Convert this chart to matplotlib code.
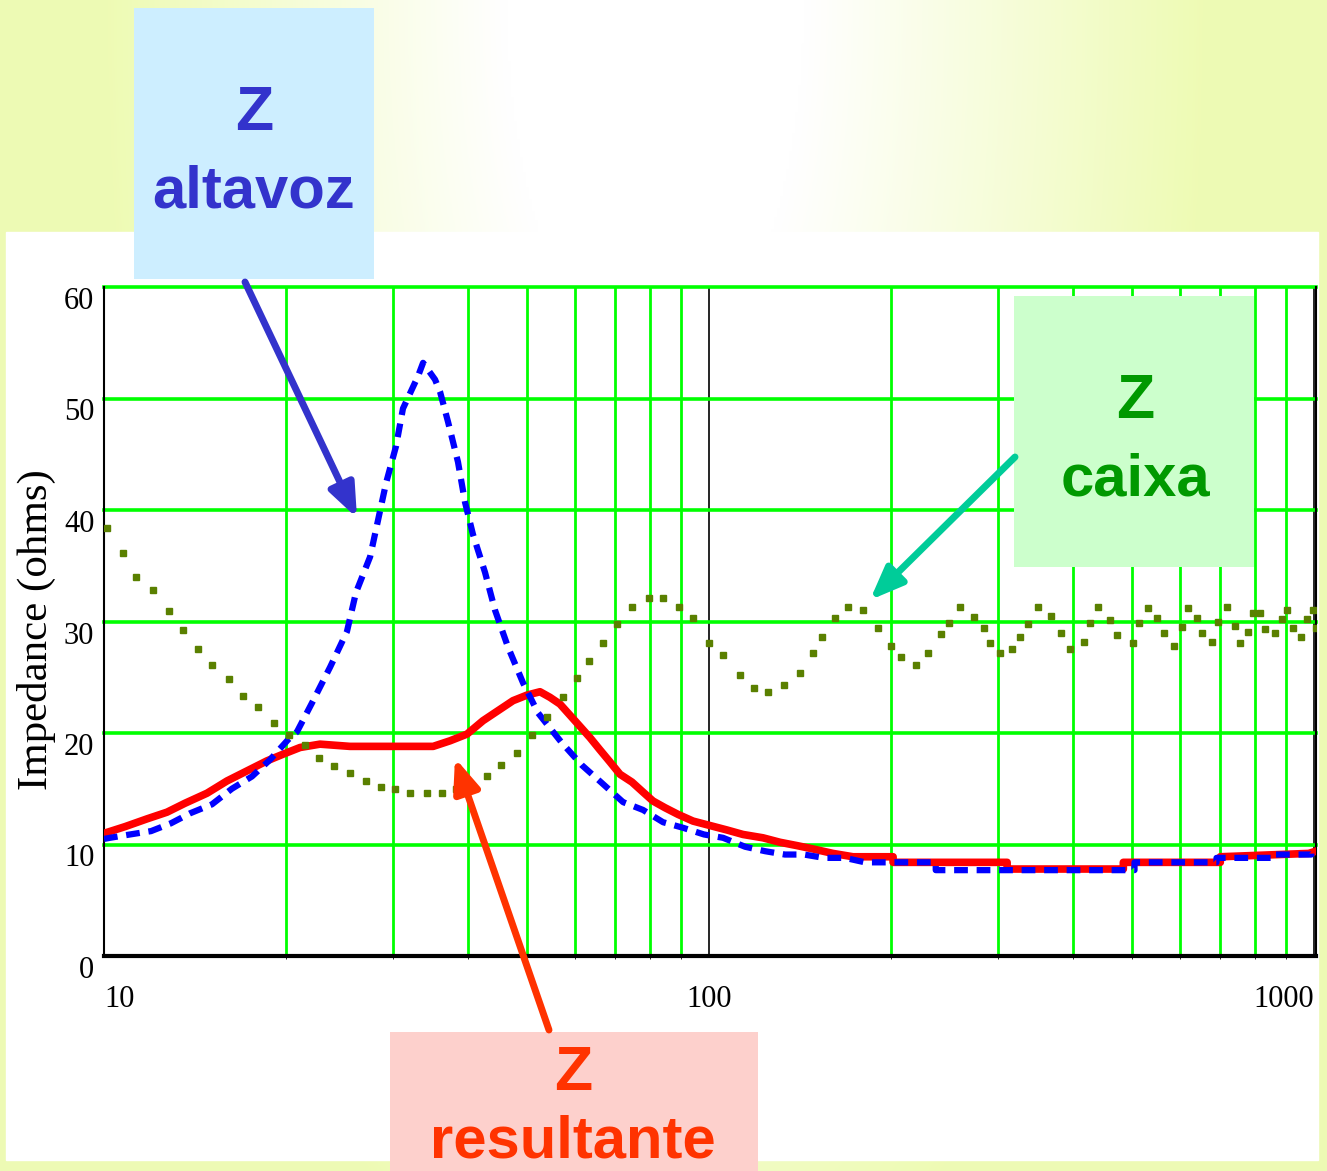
import numpy as np
import matplotlib
matplotlib.use('Agg')
import matplotlib.pyplot as plt
from matplotlib.patches import Rectangle, FancyArrowPatch
from matplotlib.ticker import LogLocator, NullFormatter

# curvas de impedância (frequência em Hz, impedância em ohms)
altavoz_f = [10.0, 10.23, 11.04, 11.96, 12.9, 13.88, 15.08, 16.27, 17.56, 18.81,
             20.15, 20.84, 22.07, 23.64, 25.21, 26.09, 27.53, 28.38, 29.25, 30.38,
             31.2, 33.04, 33.68, 35.25, 35.93, 37.04, 38.47, 39.51, 40.73, 42.64,
             44.3, 46.54, 49.27, 52.17, 57.15, 61.68, 66.56, 72.11, 77.79, 83.95,
             90.58, 98.1, 105.5, 114.7, 123.8, 133.5, 143.6, 154.9, 167.8, 181.1,
             237, 237, 505, 505, 690, 690, 860, 860, 990, 990, 1007]
altavoz_z = [10.5, 10.6, 10.9, 11.2, 11.9, 12.8, 13.6, 15.0, 16.1, 17.6,
             19.4, 20.1, 22.7, 25.9, 29.1, 32.6, 35.8, 39.1, 42.4, 45.7,
             49.1, 52.0, 53.2, 51.7, 50.6, 47.9, 44.3, 40.7, 37.8, 34.4,
             31.0, 27.7, 24.5, 21.8, 19.1, 17.1, 15.5, 13.8, 13.1, 12.0,
             11.5, 10.9, 10.6, 9.8, 9.4, 9.1, 9.1, 8.8, 8.8, 8.4,
             8.4, 7.7, 7.7, 8.4, 8.4, 8.8, 8.8, 9.1, 9.1, 9.4, 9.4]

resultante_f = [10.0, 10.83, 11.78, 12.71, 13.61, 14.8, 15.97, 17.23, 18.59, 19.77,
                21.09, 22.75, 25.5, 35.0, 37.32, 39.81, 42.3, 44.79, 47.43, 50.03,
                52.56, 54.59, 56.7, 58.9, 61.18, 63.54, 66.0, 68.61, 71.26, 74.58,
                77.79, 80.8, 84.57, 88.88, 94.1, 100.4, 107.1, 113.8, 122.8, 131.0,
                139.8, 148.6, 160.3, 173.0, 201.5, 201.5, 311, 311, 484, 484,
                700, 700, 980, 1007]
resultante_z = [11.0, 11.6, 12.3, 12.9, 13.7, 14.6, 15.7, 16.6, 17.5, 18.1,
                18.7, 19.0, 18.8, 18.8, 19.3, 19.9, 21.1, 22.0, 22.9, 23.4,
                23.7, 23.2, 22.6, 21.6, 20.6, 19.6, 18.5, 17.4, 16.3, 15.6,
                14.7, 13.9, 13.3, 12.7, 12.1, 11.7, 11.3, 10.9, 10.6, 10.2,
                9.9, 9.6, 9.2, 8.9, 8.9, 8.4, 8.4, 7.8, 7.8, 8.4,
                8.4, 8.9, 9.2, 9.4]

caixa_f = [10.1, 10.75, 11.3, 12.05, 12.8, 13.5, 14.3, 15.1, 16.1, 17.0,
           18.0, 19.1, 20.2, 21.5, 22.7, 24.0, 25.5, 27.1, 28.7, 30.3,
           32.1, 34.2, 36.2, 38.2, 40.3, 43.0, 45.3, 48.1, 51.0, 54.0,
           57.4, 60.5, 63.3, 66.8, 70.5, 74.6, 79.6, 83.9, 89.2, 94.1,
           100, 105.5, 112.5, 118.7, 125.2, 133.0, 141.4, 148.6, 153.8, 161.6,
           169.7, 179.7, 190.2, 199.9, 207.6, 219.9, 230.1, 241.8, 249.3, 260.0,
           274.2, 284.8, 291.4, 302.7, 316.8, 326.6, 336.8, 349.9, 367.6, 381.8,
           395.1, 416.8, 426.5, 439.5, 460.0, 472.5, 502.0, 513.6, 531.5, 550.1,
           565.0, 586.9, 605.0, 619.0, 640.6, 653.0, 678.3, 693.9, 718.1, 740.3,
           754.5, 777.8, 792.8, 814.1, 829.8, 862.0, 885.4, 902.5, 923.3, 951.8,
           973.6, 996.0, 1006]
caixa_z = [38.4, 36.1, 34.0, 32.8, 30.9, 29.2, 27.5, 26.1, 24.8, 23.3,
           22.3, 20.9, 19.8, 18.9, 17.8, 17.0, 16.4, 15.7, 15.2, 15.0,
           14.6, 14.6, 14.6, 15.0, 15.3, 16.1, 17.1, 18.2, 19.8, 21.4,
           23.2, 24.9, 26.5, 28.1, 29.8, 31.3, 32.1, 32.1, 31.3, 30.3,
           28.1, 27.0, 25.2, 24.0, 23.7, 24.3, 25.4, 27.2, 28.6, 30.3,
           31.3, 31.0, 29.4, 27.8, 26.8, 26.1, 27.2, 28.9, 29.9, 31.3,
           30.4, 29.4, 28.1, 27.2, 27.5, 28.6, 29.8, 31.3, 30.5, 29.0,
           27.5, 28.2, 29.9, 31.3, 30.1, 28.8, 28.1, 29.9, 31.2, 30.3,
           29.0, 27.8, 29.5, 31.2, 30.3, 29.0, 28.2, 30.0, 31.3, 29.6,
           28.1, 29.1, 30.8, 30.8, 29.3, 29.0, 30.2, 31.0, 29.4, 28.6,
           30.2, 31.0, 29.4]

xticks = [10, 100, 1000]
xtick_labels = ['10', '100', '1000']
yticks = [0, 10, 20, 30, 40, 50, 60]

W, H = 1327, 1171


def px(x, y):
    # pixel da imagem -> fração da figura
    return (x / W, 1 - y / H)


fig = plt.figure(figsize=(W / 100, H / 100), dpi=100)

# fundo amarelo com degradê branco no topo
bg = fig.add_axes([0, 0, 1, 1], zorder=-5)
bg.set_axis_off()
yy, xx = np.mgrid[0:H:3, 0:W:3]
d = np.hypot(xx - 655, yy / 2.5)
t = np.clip((d - 150) / 400, 0, 1)[..., None]
yellow = np.array([0.933, 0.984, 0.706])
img = (1 - t) * np.ones(3) + t * yellow
bg.imshow(img, extent=[0, W, H, 0], aspect='auto')
bg.set_xlim(0, W)
bg.set_ylim(H, 0)
bg.add_patch(Rectangle((6, 232), 1312, 928, color='white'))

# gráfico principal
ax = fig.add_axes([104 / W, 1 - 956 / H, 1212 / W, 669 / H])
ax.set_xscale('log')
ax.set_xlim(10, 1007.6)
ax.set_ylim(0, 60)
ax.set_facecolor('white')
ax.set_axisbelow(True)

ax.xaxis.set_minor_locator(LogLocator(base=10, subs=np.arange(2, 10)))
ax.xaxis.set_minor_formatter(NullFormatter())
ax.grid(which='minor', axis='x', color='#00ff00', lw=2)
ax.grid(which='major', axis='x', color='black', lw=1.2)
ax.set_yticks(yticks)
ax.grid(which='major', axis='y', color='#00ff00', lw=2.6)
for gl in ax.get_ygridlines():
    gl.set_clip_on(False)

ax.spines['top'].set_visible(False)
ax.spines['left'].set_linewidth(1.5)
ax.spines['right'].set_linewidth(1.5)
ax.spines['bottom'].set_linewidth(3)

ax.plot(resultante_f, resultante_z, color='#ff0000', lw=5.5, zorder=3)
ax.plot(altavoz_f, altavoz_z, color='#0000ff', lw=4.5, ls=(0, (2.2, 1.4)), zorder=4)
ax.plot(caixa_f, caixa_z, ls='none', marker='s', ms=4, color='#5a8000', zorder=5)

ax.set_xticks(xticks, xtick_labels)
ax.tick_params(axis='both', length=0, labelsize=22)
ax.tick_params(axis='x', pad=21)
ax.tick_params(axis='y', pad=7)
for lab in ax.get_xticklabels() + ax.get_yticklabels():
    lab.set_family(['Liberation Serif', 'DejaVu Serif'])
for lab, ha in zip(ax.get_xticklabels(), ['left', 'center', 'right']):
    lab.set_ha(ha)
for lab in ax.get_yticklabels():
    lab.set_va('top')

fig.text(36 / W, 1 - 630 / H, 'Impedance (ohms)', rotation=90, ha='center', va='center',
         size=31, family=['Liberation Serif', 'DejaVu Serif'])

# caixas de legenda
sans = ['Liberation Sans', 'DejaVu Sans']
boxes = [
    ((134, 279), 240, 271, '#cdeeff', '#3333cc', (254, 130), (254, 208), 'baseline', 'altavoz'),
    ((1014, 567), 240, 271, '#ccffcc', '#009900', (1135, 418), (1135, 495), 'baseline', 'caixa'),
    ((390, 1171), 368, 139, '#fdd0cc', '#ff3300', (573, 1090), (573, 1170), 'bottom', 'resultante'),
]
for corner, bw, bh, fc, tc, zpos, wpos, wva, word in boxes:
    fig.add_artist(Rectangle(px(*corner), bw / W, bh / H, transform=fig.transFigure,
                             facecolor=fc, edgecolor='none', zorder=5))
    fig.text(*px(*zpos), 'Z', ha='center', va='baseline', color=tc, size=45,
             weight='bold', family=sans, zorder=6)
    fig.text(*px(*wpos), word, ha='center', va=wva, color=tc, size=43,
             weight='bold', family=sans, zorder=6)

# setas
arrows = [
    ((245, 282), (357, 518), '#3333cc'),
    ((1015, 457), (870, 600), '#00cc99'),
    ((549, 1030), (455, 758), '#ff3300'),
]
for a, b, c in arrows:
    fig.add_artist(FancyArrowPatch(px(*a), px(*b), transform=fig.transFigure,
                                   arrowstyle='-|>,head_length=1.0,head_width=0.4',
                                   mutation_scale=20, lw=5, color=c,
                                   shrinkA=0, shrinkB=0, zorder=7))

plt.savefig('out.png', dpi=100)
